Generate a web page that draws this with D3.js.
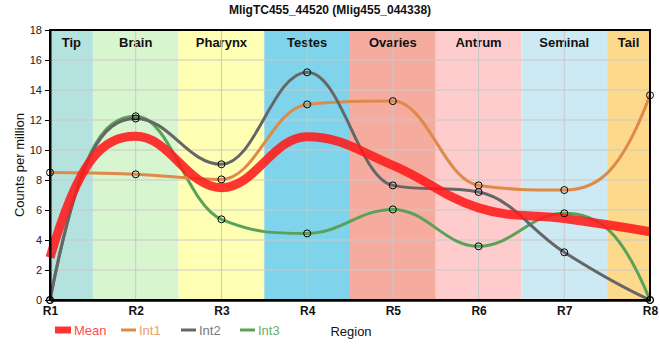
<!DOCTYPE html>
<html>
<head>
<meta charset="utf-8">
<script src="https://cdn.jsdelivr.net/npm/d3@7"></script>
<style>
  body { margin: 0; background: #fff; }
  svg { display: block; }
  text { font-family: "Liberation Sans", Arial, sans-serif; }
</style>
</head>
<body>
<svg id="chart" width="660" height="360"></svg>
<script>
// ---- data ----
const categories = ["R1", "R2", "R3", "R4", "R5", "R6", "R7", "R8"];
const regions = ["Tip", "Brain", "Pharynx", "Testes", "Ovaries", "Antrum", "Seminal", "Tail"];
const regionColors = ["#b4e2de", "#d7f6d0", "#ffffb4", "#7fd4ec", "#f5ac9f", "#ffcccd", "#cdeaf4", "#fdd98b"];
const int1 = [8.5, 8.38, 8.04, 13.04, 13.26, 7.64, 7.33, 13.65];
const int2 = [0, 12.1, 9.05, 15.18, 7.64, 7.2, 3.18, 0];
const int3 = [0, 12.25, 5.38, 4.44, 6.04, 3.58, 5.78, 0];
const mean = [2.83, 10.91, 7.49, 10.89, 8.98, 6.14, 5.43, 4.55];
const yTicks = [0, 2, 4, 6, 8, 10, 12, 14, 16, 18];
const title = "MligTC455_44520 (Mlig455_044338)";

const series = [
  { name: "Int1", values: int1, color: "#de8a49", text: "#e8a06a" },
  { name: "Int2", values: int2, color: "#666666", text: "#7a7a7a" },
  { name: "Int3", values: int3, color: "#5aa25a", text: "#6aab6a" }
];
const drawOrder = [2, 0, 1];

// ---- custom spline curve (flat tangents at extremes, steep free ends) ----
function SplineCurve(context) { this._context = context; }
SplineCurve.prototype = {
  areaStart() { this._line = 0; },
  areaEnd() { this._line = NaN; },
  lineStart() { this._pts = []; },
  point(px, py) { this._pts.push([+px, +py]); },
  lineEnd() {
    const p = this._pts, c = this._context, n = p.length;
    if (!n) return;
    c.moveTo(p[0][0], p[0][1]);
    if (n < 3) { for (let i = 1; i < n; i++) c.lineTo(p[i][0], p[i][1]); return; }
    const sm = 1.5, den = sm + 1;
    const lc = [], rc = [];
    for (let i = 1; i < n - 1; i++) {
      const [x0, y0] = p[i - 1], [x1, y1] = p[i], [x2, y2] = p[i + 1];
      let lx = (sm * x1 + x0) / den, ly = (sm * y1 + y0) / den;
      let rx = (sm * x1 + x2) / den, ry = (sm * y1 + y2) / den;
      let corr = 0;
      if (rx !== lx) corr = ((ry - ly) * (rx - x1)) / (rx - lx) + y1 - ry;
      ly += corr; ry += corr;
      if (ly > y0 && ly > y1) { ly = Math.max(y0, y1); ry = 2 * y1 - ly; }
      else if (ly < y0 && ly < y1) { ly = Math.min(y0, y1); ry = 2 * y1 - ly; }
      if (ry > y2 && ry > y1) { ry = Math.max(y2, y1); ly = 2 * y1 - ry; }
      else if (ry < y2 && ry < y1) { ry = Math.min(y2, y1); ly = 2 * y1 - ry; }
      lc[i] = [lx, ly]; rc[i] = [rx, ry];
    }
    const K = 2.4;
    {
      const h = p[1][0] - p[0][0];
      const s = (p[1][1] - p[0][1]) / h;
      const mi = (p[1][1] - lc[1][1]) / (p[1][0] - lc[1][0]);
      let m = K * s - (K - 1) * mi;
      if (m * s < 0) m = 0;
      rc[0] = [p[0][0] + h / 3, p[0][1] + m * h / 3];
    }
    {
      const j = n - 1;
      const h = p[j][0] - p[j - 1][0];
      const s = (p[j][1] - p[j - 1][1]) / h;
      const mi = (rc[j - 1][1] - p[j - 1][1]) / (rc[j - 1][0] - p[j - 1][0]);
      let m = K * s - (K - 1) * mi;
      if (m * s < 0) m = 0;
      lc[j] = [p[j][0] - h / 3, p[j][1] - m * h / 3];
    }
    for (let i = 1; i < n; i++) {
      c.bezierCurveTo(rc[i - 1][0], rc[i - 1][1], lc[i][0], lc[i][1], p[i][0], p[i][1]);
    }
  }
};
const curveSpline = ctx => new SplineCurve(ctx);

// ---- layout ----
const svg = d3.select("#chart");
const L = 50, R = 650, T = 30, B = 300;

const x = d3.scalePoint().domain(categories).range([L, R]);
const y = d3.scaleLinear().domain([0, 18]).range([B, T]);
const step = x.step();

// bands
const bands = svg.append("g");
regions.forEach((r, i) => {
  const cx = x(categories[i]);
  const x0 = Math.max(L, cx - step / 2), x1 = Math.min(R, cx + step / 2);
  bands.append("rect").attr("x", x0).attr("y", T).attr("width", x1 - x0).attr("height", B - T)
    .attr("fill", regionColors[i]);
  bands.append("text").attr("x", (x0 + x1) / 2).attr("y", 47).attr("text-anchor", "middle")
    .attr("font-size", 13).attr("font-weight", "bold").attr("fill", "#111").text(r);
});

// grid
const grid = svg.append("g");
yTicks.forEach(t => {
  grid.append("line").attr("x1", L).attr("x2", R).attr("y1", y(t)).attr("y2", y(t))
    .attr("stroke", "#c8c8c8").attr("stroke-width", 1);
});
categories.forEach(c => {
  grid.append("line").attr("x1", x(c)).attr("x2", x(c)).attr("y1", T).attr("y2", B)
    .attr("stroke", "#c8c8c8").attr("stroke-width", 1);
});

// lines
const line = d3.line().x((d, i) => x(categories[i])).y(d => y(d)).curve(curveSpline);
drawOrder.forEach(k => {
  const s = series[k];
  svg.append("path").attr("d", line(s.values)).attr("fill", "none")
    .attr("stroke", s.color).attr("stroke-width", 3);
});
svg.append("path").attr("d", line(mean)).attr("fill", "none")
  .attr("stroke", "#ff1a1a").attr("stroke-opacity", 0.88).attr("stroke-width", 9);

// frame
svg.append("rect").attr("x", L).attr("y", T).attr("width", R - L).attr("height", B - T)
  .attr("fill", "none").attr("stroke", "#000").attr("stroke-width", 2);

// y axis
const yAxis = svg.append("g").attr("transform", `translate(${L},0)`)
  .call(d3.axisLeft(y).tickValues(yTicks).tickSize(5).tickSizeOuter(0));
yAxis.select(".domain").attr("stroke-width", 2);
yAxis.selectAll("text").attr("font-size", 11).attr("fill", "#222").attr("font-family", "Liberation Sans, Arial, sans-serif");

// x axis
const xAxis = svg.append("g").attr("transform", `translate(0,${B})`)
  .call(d3.axisBottom(x).tickSize(0).tickPadding(6));
xAxis.select(".domain").attr("stroke-width", 2.5);
xAxis.selectAll("text").attr("font-size", 12).attr("font-weight", "bold").attr("fill", "#111")
  .attr("font-family", "Liberation Sans, Arial, sans-serif");

// points
series.forEach(s => {
  svg.append("g").selectAll("circle").data(s.values).join("circle")
    .attr("cx", (d, i) => x(categories[i])).attr("cy", d => y(d)).attr("r", 3.5)
    .attr("fill", "none").attr("stroke", "#000").attr("stroke-width", 1);
});

// title
svg.append("text").attr("x", 330).attr("y", 14).attr("text-anchor", "middle")
  .attr("font-size", 12).attr("font-weight", "bold").attr("fill", "#111").text(title);

// y label
svg.append("text").attr("transform", "translate(24,165) rotate(-90)").attr("text-anchor", "middle")
  .attr("font-size", 13).attr("fill", "#111").text("Counts per million");

// x label
svg.append("text").attr("x", 351).attr("y", 336).attr("text-anchor", "middle")
  .attr("font-size", 13).attr("fill", "#111").text("Region");

// legend
const lg = svg.append("g");
lg.append("rect").attr("x", 55).attr("y", 326.5).attr("width", 16).attr("height", 7).attr("fill", "#ff3333");
lg.append("text").attr("x", 74).attr("y", 335).attr("font-size", 13).attr("fill", "#ff4d4d").text("Mean");
const lx = [121, 181, 240];
series.forEach((s, i) => {
  lg.append("line").attr("x1", lx[i]).attr("x2", lx[i] + 15).attr("y1", 330).attr("y2", 330)
    .attr("stroke", s.color).attr("stroke-width", 3);
  lg.append("text").attr("x", lx[i] + 18).attr("y", 335).attr("font-size", 13).attr("fill", s.text).text(s.name);
});
</script>
</body>
</html>
